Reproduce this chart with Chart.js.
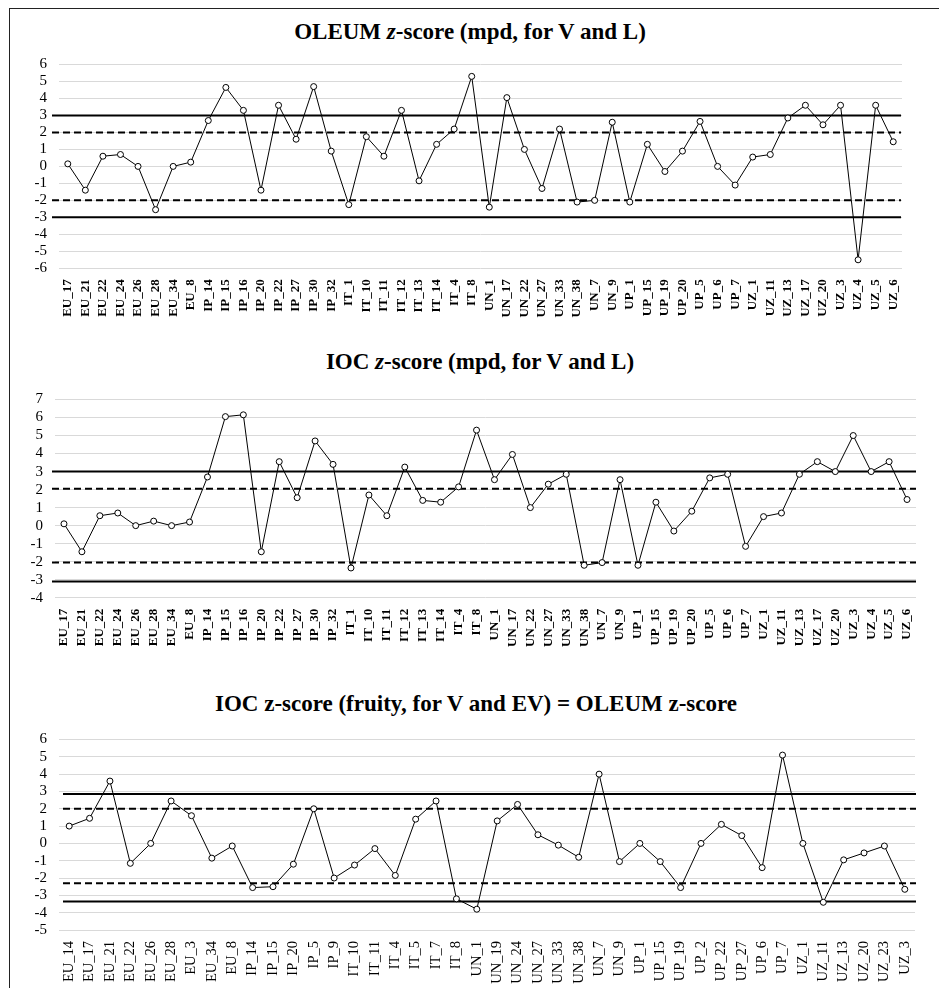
<!DOCTYPE html>
<html>
<head>
<meta charset="utf-8">
<title>z-score charts</title>
<script src="https://cdn.jsdelivr.net/npm/chart.js@4.4.1/dist/chart.umd.min.js"></script>
<style>
    html, body { margin: 0; padding: 0; background: #fff; overflow: hidden; }
    body { width: 939px; height: 988px; position: relative; font-family: 'Liberation Serif', 'Times New Roman', serif; }
    .frame { position: absolute; left: 9px; top: 8px; right: -10px; bottom: -10px; border-left: 1.5px solid #222; border-top: 1.5px solid #222; }
    .title { position: absolute; transform: translateX(-50%); white-space: nowrap; font-size: 23px; font-weight: bold; line-height: 23px; color: #000; z-index: 2; }
    .box { position: absolute; left: 0; width: 939px; }
</style>
</head>
<body>
<div class="frame"></div>

<div class="title" style="left:470px; top:20px">OLEUM <i>z</i>-score (mpd, for V and L)</div>
<div class="box" style="top:45px; height:280px"><canvas id="oleumMpdChart"></canvas></div>

<div class="title" style="left:480px; top:350px">IOC <i>z</i>-score (mpd, for V and L)</div>
<div class="box" style="top:380px; height:270px"><canvas id="iocMpdChart"></canvas></div>

<div class="title" style="left:476px; top:692px">IOC z-score (fruity, for V and EV) = OLEUM z-score</div>
<div class="box" style="top:720px; height:268px"><canvas id="fruityChart"></canvas></div>

<script>
const samplesMpd = ['EU_17', 'EU_21', 'EU_22', 'EU_24', 'EU_26', 'EU_28', 'EU_34', 'EU_8',
    'IP_14', 'IP_15', 'IP_16', 'IP_20', 'IP_22', 'IP_27', 'IP_30', 'IP_32',
    'IT_1', 'IT_10', 'IT_11', 'IT_12', 'IT_13', 'IT_14', 'IT_4', 'IT_8',
    'UN_1', 'UN_17', 'UN_22', 'UN_27', 'UN_33', 'UN_38', 'UN_7', 'UN_9',
    'UP_1', 'UP_15', 'UP_19', 'UP_20', 'UP_5', 'UP_6', 'UP_7',
    'UZ_1', 'UZ_11', 'UZ_13', 'UZ_17', 'UZ_20', 'UZ_3', 'UZ_4', 'UZ_5', 'UZ_6'];

const oleumMpd = [0.15, -1.4, 0.6, 0.7, 0, -2.55, 0, 0.25,
    2.7, 4.65, 3.3, -1.4, 3.6, 1.6, 4.7, 0.9,
    -2.25, 1.75, 0.6, 3.3, -0.85, 1.3, 2.2, 5.3,
    -2.4, 4.05, 1.0, -1.3, 2.2, -2.1, -2.0, 2.6,
    -2.1, 1.3, -0.3, 0.9, 2.65, 0, -1.1,
    0.55, 0.7, 2.85, 3.6, 2.45, 3.6, -5.5, 3.6, 1.45];

const iocMpd = [0.1, -1.45, 0.55, 0.7, 0, 0.25, 0, 0.2,
    2.7, 6.05, 6.15, -1.45, 3.55, 1.55, 4.7, 3.4,
    -2.35, 1.7, 0.55, 3.25, 1.4, 1.3, 2.15, 5.3,
    2.55, 3.95, 1.0, 2.3, 2.85, -2.2, -2.05, 2.55,
    -2.2, 1.3, -0.3, 0.8, 2.65, 2.85, -1.15,
    0.5, 0.7, 2.85, 3.55, 3.0, 5.0, 3.0, 3.55, 1.45];

const samplesFruity = ['EU_14', 'EU_17', 'EU_21', 'EU_22', 'EU_26', 'EU_28', 'EU_3', 'EU_34', 'EU_8',
    'IP_14', 'IP_15', 'IP_20', 'IP_5', 'IP_9',
    'IT_10', 'IT_11', 'IT_4', 'IT_5', 'IT_7', 'IT_8',
    'UN_1', 'UN_19', 'UN_24', 'UN_27', 'UN_33', 'UN_38', 'UN_7', 'UN_9',
    'UP_1', 'UP_15', 'UP_19', 'UP_2', 'UP_22', 'UP_27', 'UP_6', 'UP_7',
    'UZ_1', 'UZ_11', 'UZ_13', 'UZ_20', 'UZ_23', 'UZ_3'];

const fruityScore = [1.0, 1.45, 3.6, -1.15, 0, 2.45, 1.6, -0.85, -0.15,
    -2.55, -2.5, -1.2, 2.0, -2.0,
    -1.25, -0.3, -1.85, 1.4, 2.45, -3.2,
    -3.8, 1.3, 2.25, 0.5, -0.1, -0.8, 4.0, -1.05,
    0, -1.05, -2.55, 0, 1.1, 0.45, -1.4, 5.1,
    0, -3.4, -0.95, -0.55, -0.15, -2.65];

// limit lines: solid = action limits, dashed = warning limits
const oleumSolid = [3, -3];
const oleumDashed = [2, -2];
const iocSolid = [3, -3.1];
const iocDashed = [2.05, -2.05];
const fruitySolid = [2.85, -3.35];
const fruityDashed = [2.0, -2.3];

const FONT = "'Liberation Serif', 'Times New Roman', serif";

document.addEventListener('DOMContentLoaded', function () {

    const limitLines = (solid, dashed, startOffset, endOffset) => ({
        id: 'limitLines',
        beforeDatasetsDraw(chart) {
            const { ctx, chartArea, scales } = chart;
            const x0 = chartArea.left + startOffset;
            const x1 = chartArea.right + endOffset;
            const drawAt = (v) => {
                const y = scales.y.getPixelForValue(v);
                ctx.beginPath();
                ctx.moveTo(x0, y);
                ctx.lineTo(x1, y);
                ctx.stroke();
            };
            ctx.save();
            ctx.strokeStyle = '#000';
            ctx.lineWidth = 2;
            solid.forEach(drawAt);
            ctx.setLineDash([7, 4]);
            dashed.forEach(drawAt);
            ctx.restore();
        }
    });

    const makeChart = (id, labels, values, cfg) => {
        const el = document.getElementById(id);
        if (!el) return;
        new Chart(el, {
            type: 'line',
            data: {
                labels: labels,
                datasets: [{
                    data: values,
                    borderColor: '#000',
                    borderWidth: 1,
                    tension: 0,
                    fill: false,
                    pointRadius: 3,
                    pointHoverRadius: 3,
                    pointBackgroundColor: '#fff',
                    pointBorderColor: '#000',
                    pointBorderWidth: 1
                }]
            },
            options: {
                responsive: true,
                maintainAspectRatio: false,
                animation: false,
                layout: {
                    padding: { top: cfg.padTop, right: cfg.padRight, left: 0, bottom: 0 }
                },
                plugins: {
                    legend: { display: false },
                    tooltip: { enabled: false },
                    title: { display: false }
                },
                scales: {
                    x: {
                        offset: true,
                        grid: { display: false },
                        border: { display: false },
                        ticks: {
                            autoSkip: false,
                            maxRotation: 90,
                            minRotation: 90,
                            padding: 3,
                            color: '#000',
                            font: { family: FONT, size: cfg.xFontSize, weight: cfg.xBold ? 'bold' : 'normal' }
                        },
                        afterFit: (scale) => { scale.height = cfg.xHeight; }
                    },
                    y: {
                        min: cfg.yMin,
                        max: cfg.yMax,
                        ticks: {
                            stepSize: 1,
                            autoSkip: false,
                            maxTicksLimit: 30,
                            padding: 12,
                            color: '#000',
                            font: { family: FONT, size: 15, lineHeight: 1 }
                        },
                        grid: { color: '#d9d9d9', lineWidth: 1, drawTicks: false },
                        border: { display: false },
                        afterFit: (scale) => { scale.width = cfg.yWidth; }
                    }
                }
            },
            plugins: [limitLines(cfg.solid, cfg.dashed, cfg.lineStart, cfg.lineEnd)]
        });
    };

    makeChart('oleumMpdChart', samplesMpd, oleumMpd, {
        yMin: -6, yMax: 6, yWidth: 59, padTop: 16, padRight: 37, xHeight: 56.7,
        xFontSize: 13, xBold: true,
        solid: oleumSolid, dashed: oleumDashed, lineStart: -7, lineEnd: -1
    });

    makeChart('iocMpdChart', samplesMpd, iocMpd, {
        yMin: -4, yMax: 7, yWidth: 55, padTop: 10.3, padRight: 23, xHeight: 52.3,
        xFontSize: 13, xBold: true,
        solid: iocSolid, dashed: iocDashed, lineStart: -3, lineEnd: 0
    });

    makeChart('fruityChart', samplesFruity, fruityScore, {
        yMin: -5, yMax: 6, yWidth: 59, padTop: 14.3, padRight: 24, xHeight: 58,
        xFontSize: 14.5, xBold: false,
        solid: fruitySolid, dashed: fruityDashed, lineStart: 4, lineEnd: 1
    });
});
</script>
</body>
</html>
